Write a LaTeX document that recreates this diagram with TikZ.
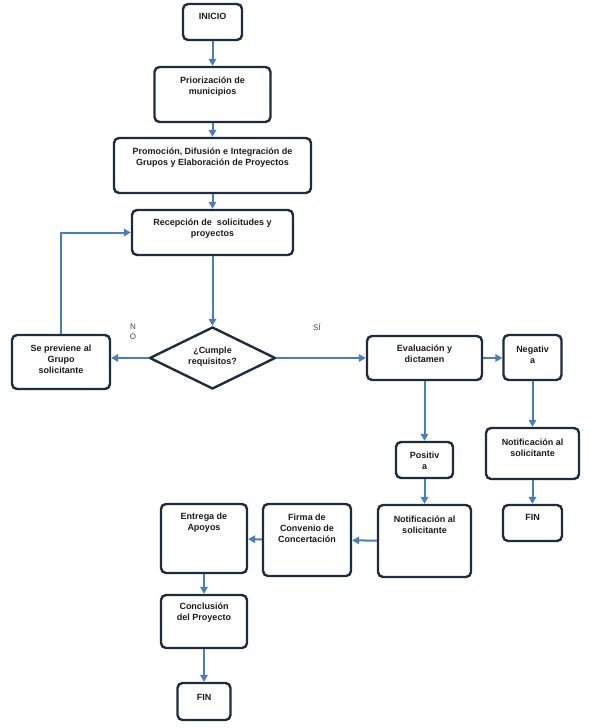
\documentclass[tikz,border=0pt]{standalone}
\usepackage{fontspec}
\setmainfont{Liberation Sans}
\usetikzlibrary{arrows.meta,shapes.geometric}
\definecolor{borde}{HTML}{1F2B3E}
\definecolor{azul}{HTML}{4A7EBB}
\definecolor{letra}{HTML}{1A1A1A}

\begin{document}
\begin{tikzpicture}[x=1pt,y=-1pt,
  caja/.style={draw=borde,line width=2.4pt,rounded corners=5pt,inner sep=0pt},
  rombo/.style={draw=borde,line width=2.4pt,diamond,aspect=2,inner sep=0pt,
                minimum width=126pt,minimum height=62pt},
  flecha/.style={draw=azul,line width=2pt,-{Triangle[length=7pt,width=7.5pt]}},
  texto/.style={align=center,text=letra,inner sep=0pt,
                font=\bfseries\fontsize{9}{11}\selectfont},
  nota/.style={align=center,text=black!75,inner sep=0pt,
               font=\fontsize{8}{10}\selectfont}]
  \useasboundingbox (0,0) rectangle (589,728);
  % cajas
  \node[caja,minimum width= 59pt,minimum height=36pt] (inicio)  at (212.5, 22.0) {};
  \node[caja,minimum width=116pt,minimum height=55pt] (prior)   at (212.5, 94.5) {};
  \node[caja,minimum width=197pt,minimum height=55pt] (promo)   at (212.5,165.5) {};
  \node[caja,minimum width=161pt,minimum height=45pt] (recep)   at (212.5,232.5) {};
  \node[rombo]                                        (cumple)  at (212.5,358.0) {};
  \node[caja,minimum width= 98pt,minimum height=54pt] (prev)    at ( 61.0,362.0) {};
  \node[caja,minimum width=115pt,minimum height=44pt] (eval)    at (424.5,358.0) {};
  \node[caja,minimum width= 58pt,minimum height=45pt] (neg)     at (532.5,357.5) {};
  \node[caja,minimum width= 93pt,minimum height=51pt] (notneg)  at (532.5,453.5) {};
  \node[caja,minimum width= 59pt,minimum height=36pt] (finneg)  at (532.5,523.0) {};
  \node[caja,minimum width= 57pt,minimum height=36pt] (pos)     at (424.5,460.0) {};
  \node[caja,minimum width= 93pt,minimum height=72pt] (notpos)  at (424.5,541.0) {};
  \node[caja,minimum width= 88pt,minimum height=72pt] (firma)   at (307.0,540.0) {};
  \node[caja,minimum width= 86pt,minimum height=69pt] (entrega) at (204.0,538.5) {};
  \node[caja,minimum width= 86pt,minimum height=53pt] (concl)   at (204.0,621.5) {};
  \node[caja,minimum width= 53pt,minimum height=37pt] (fin)     at (204.0,701.5) {};
  % textos
  \node[texto] (tinicio)  at (212.5, 16.0) {INICIO};
  \node[texto] (tprior)   at (212.5, 86.5) {Priorización de\\municipios};
  \node[texto] (tpromo)   at (212.5,157.5) {Promoción, Difusión e Integración de\\Grupos y Elaboración de Proyectos};
  \node[texto] (trecep)   at (212.5,228.5) {Recepción de\ \ solicitudes y\\proyectos};
  \node[texto] (tcumple)  at (212.5,357.0) {¿Cumple\\requisitos?};
  \node[texto] (tprev)    at ( 61.0,359.5) {Se previene al\\Grupo\\solicitante};
  \node[texto] (teval)    at (424.5,353.5) {Evaluación y\\dictamen};
  \node[texto] (tneg)     at (532.5,355.0) {Negativ\\a};
  \node[texto] (tnotneg)  at (532.5,448.0) {Notificación al\\solicitante};
  \node[texto] (tfinneg)  at (532.5,517.0) {FIN};
  \node[texto] (tpos)     at (424.5,461.0) {Positiv\\a};
  \node[texto] (tnotpos)  at (424.5,525.0) {Notificación al\\solicitante};
  \node[texto] (tfirma)   at (307.0,528.0) {Firma de\\Convenio de\\Concertación};
  \node[texto] (tentrega) at (204.0,523.0) {Entrega de\\Apoyos};
  \node[texto] (tconcl)   at (204.0,613.0) {Conclusión\\del Proyecto};
  \node[texto] (tfin)     at (204.0,697.0) {FIN};
  \node[nota]  (no)       at (133.0,332.0) {N\\O};
  \node[nota]  (si)       at (317.0,327.0) {SÍ};
  % flechas
  \draw[flecha] (inicio) -- (prior);
  \draw[flecha] (prior) -- (promo);
  \draw[flecha] (promo) -- (recep);
  \draw[flecha] (recep) -- (cumple);
  \draw[flecha] (cumple.west) -- (cumple.west -| prev.east);
  \draw[flecha] (prev.north) |- (recep.west);
  \draw[flecha] (cumple.east) -- (eval.west);
  \draw[flecha] (eval.east) -- (eval.east -| neg.west);
  \draw[flecha] (eval) -- (pos);
  \draw[flecha] (neg) -- (notneg);
  \draw[flecha] (notneg) -- (finneg);
  \draw[flecha] (pos) -- (notpos);
  \draw[flecha] (notpos) -- (firma);
  \draw[flecha] (firma) -- (entrega);
  \draw[flecha] (entrega) -- (concl);
  \draw[flecha] (concl) -- (fin);
\end{tikzpicture}
\end{document}
